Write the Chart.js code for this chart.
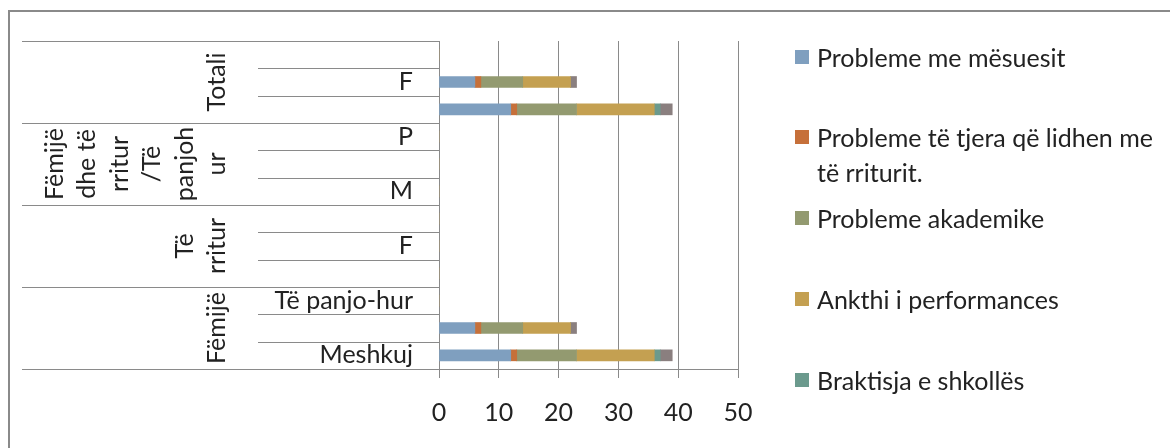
<!DOCTYPE html>
<html>
<head>
<meta charset="utf-8">
<script src="https://cdn.jsdelivr.net/npm/chart.js@4/dist/chart.umd.min.js"></script>
<style>
  html, body { margin:0; padding:0; width:1170px; height:448px; overflow:hidden; background:#fff; }
  #wrap { position:relative; width:1170px; height:448px; }
  #frame { position:absolute; left:8px; top:10px; width:1300px; height:600px; border:2px solid #8a8a8a; box-sizing:border-box; }
  canvas { position:absolute; left:0; top:0; }
  #legend { position:absolute; left:0; top:0; font-family:Lato, "Open Sans", sans-serif; font-size:25px; color:#222; }
  .item { position:absolute; left:795px; width:370px; line-height:35px; }
  .sw { position:absolute; left:0; top:10px; width:14px; height:14px; }
  .tx { position:absolute; left:22px; width:340px; white-space:normal; }
</style>
</head>
<body>
<div id="wrap">
  <div id="frame"></div>
  <canvas id="c" width="1170" height="448"></canvas>
  <div id="legend"></div>
</div>
<script>
// categories, bottom to top (Excel order)
const categories = ["Meshkuj","Femra","Të panjo-hur","M","F","P","M","F","P","M","F","P"];
// group labels (bottom to top), each spanning 3 categories, wrapped as in the picture
const groupLabels = [
  ["Fëmijë"],
  ["Të","rritur"],
  ["Fëmijë","dhe të","rritur","/Të","panjoh","ur"],
  ["Totali"]
];
const groupSize = 3;

const seriesNames = [
  "Probleme me mësuesit",
  "Probleme të tjera që lidhen me të rriturit.",
  "Probleme akademike",
  "Ankthi i performances",
  "Braktisja e shkollës",
  "Të tjera"
];
const seriesColors = ["#7f9fbf","#c6703a","#939a70","#c4a051","#6b9a8d","#8a7f7f"];

const problemeMeMesuesit   = [12,6,0,0,0,0,0,0,0,12,6,0];
const problemeTeTjera      = [1,1,0,0,0,0,0,0,0,1,1,0];
const problemeAkademike    = [10,7,0,0,0,0,0,0,0,10,7,0];
const ankthiPerformances   = [13,8,0,0,0,0,0,0,0,13,8,0];
const braktisjaShkolles    = [1,0,0,0,0,0,0,0,0,1,0,0];
const teTjera              = [2,1,0,0,0,0,0,0,0,2,1,0];

const xTicks = [0,10,20,30,40,50];
const legendShown = 5; // the sixth entry is cut off in the original

const seriesValues = [problemeMeMesuesit, problemeTeTjera, problemeAkademike, ankthiPerformances, braktisjaShkolles, teTjera];

const FONT = 'Lato, "Open Sans", sans-serif';
const FS = 25;
const LINE = '#8a8a8a';
const TEXT = '#222';

const hierarchy = {
  id: 'hierarchy',
  afterDraw(chart) {
    const ctx = chart.ctx;
    const y = chart.scales.y;
    const area = chart.chartArea;
    const n = categories.length;
    const half = Math.abs(y.getPixelForValue(1) - y.getPixelForValue(0)) / 2;
    ctx.save();
    ctx.strokeStyle = LINE;
    ctx.lineWidth = 1;
    const axisX = Math.round(area.left) + 0.5;
    for (let i = 0; i <= n; i++) {
      const py = (i < n ? y.getPixelForValue(i) + half : y.getPixelForValue(n - 1) - half);
      const yy = Math.round(py) + 0.5;
      const isGroup = (i % groupSize === 0);
      ctx.beginPath();
      ctx.moveTo(isGroup ? 22 : 258, yy);
      ctx.lineTo(axisX, yy);
      ctx.stroke();
    }
    ctx.fillStyle = TEXT;
    ctx.font = FS + 'px ' + FONT;
    ctx.textAlign = 'center';
    ctx.textBaseline = 'middle';
    groupLabels.forEach((lines, g) => {
      const a = y.getPixelForValue(g * groupSize) + half;
      const b = y.getPixelForValue(g * groupSize + groupSize - 1) - half;
      const yc = (a + b) / 2;
      const nl = lines.length;
      lines.forEach((t, k) => {
        const xc = 217 - (nl - 1 - k) * 32.5;
        ctx.save();
        ctx.translate(xc, yc);
        ctx.rotate(-Math.PI / 2);
        ctx.fillText(t, 0, 0);
        ctx.restore();
      });
    });
    ctx.restore();
  }
};

new Chart(document.getElementById('c'), {
  type: 'bar',
  data: {
    labels: categories,
    datasets: seriesNames.map((name, i) => ({
      label: name,
      data: seriesValues[i],
      backgroundColor: seriesColors[i],
      borderWidth: 0,
      barThickness: 11
    }))
  },
  options: {
    indexAxis: 'y',
    responsive: false,
    animation: false,
    layout: { padding: { left: 0, top: 40, right: 432, bottom: 0 } },
    plugins: { legend: { display: false }, tooltip: { enabled: false } },
    scales: {
      x: {
        stacked: true,
        min: 0, max: 50,
        afterBuildTicks: s => { s.ticks = xTicks.map(v => ({ value: v })); },
        afterFit: s => { s.height = 79; },
        ticks: { font: { family: FONT, size: FS }, color: TEXT, padding: 20 },
        grid: { color: LINE, lineWidth: 1, tickLength: 9, drawTicks: true },
        border: { display: true, color: LINE, width: 1 }
      },
      y: {
        stacked: true,
        reverse: true,
        afterFit: s => { s.width = 439; },
        ticks: {
          autoSkip: false,
          font: { family: FONT, size: FS },
          color: TEXT,
          padding: 26,
          callback: function (v, i) { return i % 2 === 0 ? categories[i] : ''; }
        },
        grid: { display: false, drawTicks: false },
        border: { display: false }
      }
    }
  },
  plugins: [hierarchy]
});

const legend = document.getElementById('legend');
for (let i = 0; i < legendShown; i++) {
  const center = 57 + i * 80.75;
  const it = document.createElement('div');
  it.className = 'item';
  it.style.top = (center - 17.5) + 'px';
  const sw = document.createElement('div');
  sw.className = 'sw';
  sw.style.background = seriesColors[i];
  const tx = document.createElement('div');
  tx.className = 'tx';
  tx.textContent = seriesNames[i];
  it.appendChild(sw);
  it.appendChild(tx);
  legend.appendChild(it);
}
</script>
</body>
</html>
